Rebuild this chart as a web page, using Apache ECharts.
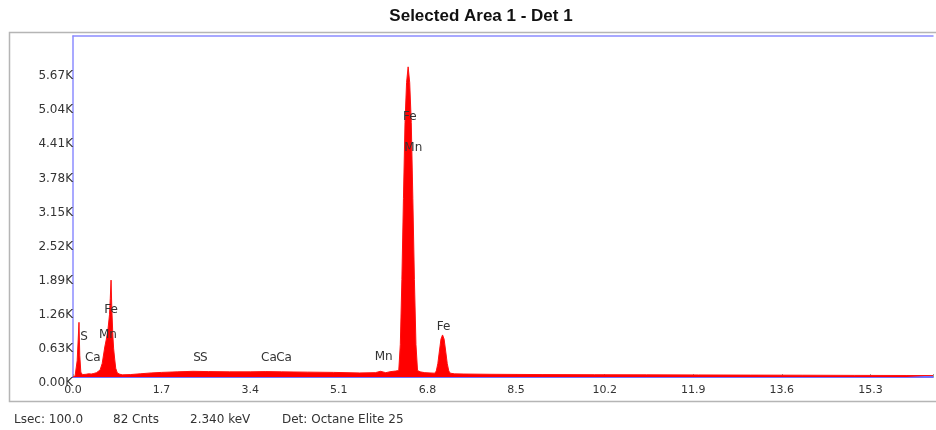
<!DOCTYPE html>
<html lang="en">
<head>
    <meta charset="UTF-8">
    <title>Selected Area 1 - Det 1</title>
    <script src="https://cdn.jsdelivr.net/npm/echarts@6.0.0/dist/echarts.min.js"></script>
    <style>
        body { margin: 0; padding: 0; background: #fff; }
        #chart { width: 936px; height: 430px; }
    </style>
</head>
<body>
    <div id="chart"></div>
    <script>
        // spectrum points (keV, counts)
        const energy = [0.00, 0.04, 0.08, 0.10, 0.115, 0.13, 0.15, 0.18, 0.25, 0.30, 0.35, 0.40, 0.45, 0.52, 0.56,
            0.61, 0.64, 0.67, 0.70, 0.715, 0.73, 0.745, 0.766, 0.78, 0.80, 0.82, 0.85, 0.90, 0.95,
            1.1, 1.3, 1.5, 1.7, 2.0, 2.3, 2.6, 3.0, 3.4, 3.7, 4.0, 4.5, 5.0, 5.5, 5.8, 5.9, 6.0, 6.1, 6.19,
            6.25, 6.28, 6.31, 6.34, 6.37, 6.40, 6.43, 6.46, 6.49, 6.52, 6.55, 6.58, 6.61, 6.66, 6.75, 6.85, 6.94,
            6.97, 7.00, 7.03, 7.06, 7.09, 7.12, 7.15, 7.18, 7.21, 7.24, 7.32, 7.5, 8.0, 9.0, 10.0, 11.0, 12.0,
            13.0, 14.0, 15.0, 16.0, 16.5];
        const counts = [0, 20, 300, 700, 1010, 400, 90, 45, 50, 60, 55, 65, 80, 130, 250,
            555, 700, 870, 1150, 1450, 1790, 1250, 740, 520, 330, 160, 74, 50, 40,
            45, 60, 75, 85, 95, 105, 100, 95, 95, 100, 95, 90, 85, 75, 80, 105, 80, 100, 110,
            120, 600, 1800, 3300, 4700, 5440, 5730, 5440, 4700, 3300, 1800, 600, 120, 95, 80, 75, 70,
            110, 250, 480, 700, 777, 700, 480, 250, 110, 70, 58, 55, 50, 45, 42, 40, 38,
            35, 33, 30, 28, 27];

        // element tags placed over the peaks
        const tagNames = ['S', 'Ca', 'Fe', 'Mn', 'S', 'S', 'Ca', 'Ca', 'Mn', 'Fe', 'Mn', 'Fe'];
        const tagKeV = [0.21, 0.38, 0.73, 0.67, 2.38, 2.51, 3.76, 4.05, 5.96, 6.46, 6.53, 7.11];
        const tagCnts = [740, 351, 1239, 777, 351, 351, 351, 351, 370, 4807, 4234, 924];

        const xTicks = [0.0, 1.7, 3.4, 5.1, 6.8, 8.5, 10.2, 11.9, 13.6, 15.3];
        const yTicks = ['0.00K', '0.63K', '1.26K', '1.89K', '2.52K', '3.15K', '3.78K', '4.41K', '5.04K', '5.67K'];

        const footer = ['Lsec: 100.0', '82 Cnts', '2.340 keV', 'Det: Octane Elite 25'];
        const footerX = [14, 113, 190, 282];

        const chart = echarts.init(document.getElementById('chart'));
        const font = '"DejaVu Sans", Verdana, sans-serif';
        const blue = '#8c8cff';

        const option = {
            animation: false,
            backgroundColor: '#fff',
            grid: {
                left: 73,
                top: 36,
                right: 0,
                bottom: 53
            },
            graphic: [
                {
                    type: 'text',
                    x: 481,
                    y: 8,
                    style: {
                        text: 'Selected Area 1 - Det 1',
                        font: 'bold 17px "Liberation Sans", Arial, sans-serif',
                        fill: '#111',
                        align: 'center'
                    }
                },
                {
                    type: 'polyline',
                    shape: { points: [[940, 32.5], [9.5, 32.5], [9.5, 401.5], [940, 401.5]] },
                    style: { fill: 'none', stroke: '#b5b5b5', lineWidth: 1.5 },
                    z: -1
                }
            ].concat(footer.map((t, i) => ({
                type: 'text',
                left: footerX[i],
                top: 414,
                style: { text: t, font: '12px ' + font, fill: '#333' }
            }))),
            xAxis: [
                {
                    type: 'value',
                    min: 0,
                    max: 16.5,
                    interval: 1.7,
                    axisLine: { show: true, onZero: false, lineStyle: { color: '#7070ff', width: 2 } },
                    axisTick: { show: true, length: 3, inside: true, lineStyle: { color: '#999' } },
                    splitLine: { show: false },
                    axisLabel: {
                        color: '#333',
                        fontFamily: font,
                        fontSize: 11,
                        margin: 8,
                        formatter: v => {
                            const i = xTicks.findIndex(t => Math.abs(t - v) < 1e-6);
                            return i < 0 ? '' : xTicks[i].toFixed(1);
                        }
                    }
                },
                {
                    type: 'value',
                    position: 'top',
                    min: 0,
                    max: 16.5,
                    axisLine: { show: true, onZero: false, lineStyle: { color: blue, width: 1.5 } },
                    axisTick: { show: false },
                    axisLabel: { show: false },
                    splitLine: { show: false }
                }
            ],
            yAxis: {
                type: 'value',
                min: 0,
                max: 6300,
                interval: 630,
                axisLine: { show: true, lineStyle: { color: blue, width: 1.5 } },
                axisTick: { show: false },
                splitLine: { show: false },
                axisLabel: {
                    color: '#333',
                    fontFamily: font,
                    fontSize: 12,
                    margin: 0,
                    verticalAlign: 'top',
                    formatter: v => {
                        const i = Math.round(v / 630);
                        return i < yTicks.length ? yTicks[i] : '';
                    }
                }
            },
            series: [
                {
                    type: 'line',
                    data: energy.map((e, i) => [e, counts[i]]),
                    showSymbol: false,
                    lineStyle: { color: '#ff1010', width: 1 },
                    areaStyle: { color: '#ff0000', opacity: 1 },
                    markPoint: {
                        symbol: 'circle',
                        symbolSize: 0,
                        label: {
                            show: true,
                            position: 'inside',
                            color: '#333',
                            fontFamily: font,
                            fontSize: 12,
                            formatter: p => p.name
                        },
                        data: tagNames.map((n, i) => ({ name: n, coord: [tagKeV[i], tagCnts[i]] }))
                    }
                }
            ]
        };

        chart.setOption(option);
    </script>
</body>
</html>
